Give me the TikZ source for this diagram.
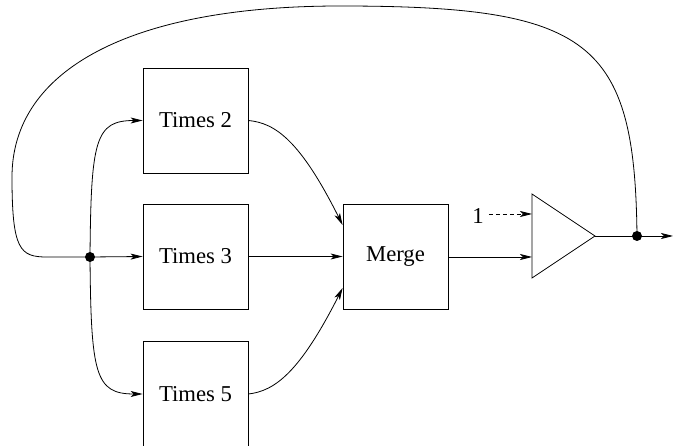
\documentclass[tikz,border=0pt]{standalone}
\usepackage{fontspec}
\setmainfont{Liberation Serif}
\usetikzlibrary{arrows.meta,calc}
\tikzset{
  blk/.style={draw, line width=0.8pt, minimum width=105pt, minimum height=105pt, inner sep=0pt,
    font=\fontsize{22.7}{27}\selectfont},
  lbl/.style={inner sep=0pt, font=\fontsize{22.7}{27}\selectfont},
  wire/.style={line width=0.8pt},
  arr/.style={wire, -{Stealth[length=12pt,width=6pt,inset=3pt]}},
  dotnode/.style={circle, fill=black, minimum size=10pt, inner sep=0pt}
}
\begin{document}
\begin{tikzpicture}[x=1pt,y=-1pt]
\useasboundingbox (0,0) rectangle (673,446);
% blocks
\node[blk] (t2) at (195.5,120.5) {Times 2};
\node[blk] (t3) at (195.5,256.5) {Times 3};
\node[blk] (t5) at (195.5,394) {Times 5};
\node[blk] (merge) at (395.5,256.5) {Merge};
% amplifier triangle
\coordinate (ampT) at (532,194);
\coordinate (ampB) at (532,278);
\coordinate (ampTip) at (595,236);
\draw[wire, line join=miter] (ampT) -- (ampTip) -- (ampB) -- cycle;
\coordinate (ampIn1) at (532,214);
\coordinate (ampIn2) at (532,257);
\node[lbl] (one) at (478,216) {1};
% junction dots
\node[dotnode] (split) at (90,257) {};
\node[dotnode] (tap) at (637,236) {};
\coordinate (outend) at (673,236);
% feedback loop
\coordinate (top) at (340,6);
\coordinate (left) at (12,177);
\coordinate (lin) at (47,257);
\draw[wire] (tap.center) .. controls (635,40) and (590,6) .. (top)
  .. controls (130,6) and (12,70) .. (left)
  .. controls (12,250) and (20,257) .. (lin) -- (split.center);
% split to blocks
\draw[arr] (split.center) .. controls (91,140) and (95,120.5) .. (t2.west);
\draw[arr] (split.center) -- (t3.west);
\draw[arr] (split.center) .. controls (91,374) and (95,394) .. (t5.west);
% blocks to merge
\draw[arr] (t2.east) .. controls (275,123) and (300,140) .. ([yshift=31.5pt]merge.west);
\draw[arr] (t3.east) -- (merge.west);
\draw[arr] (t5.east) .. controls (275,391) and (300,372) .. ([yshift=-31.5pt]merge.west);
% merge to amplifier
\draw[arr] (merge.east |- ampIn2) -- (ampIn2);
\draw[arr, dashed, dash pattern=on 4pt off 3pt] ([xshift=5pt]one.east |- ampIn1) -- (ampIn1);
% output
\draw[wire] (ampTip) -- (tap.center);
\draw[arr] (tap.center) -- (outend);
\end{tikzpicture}
\end{document}
